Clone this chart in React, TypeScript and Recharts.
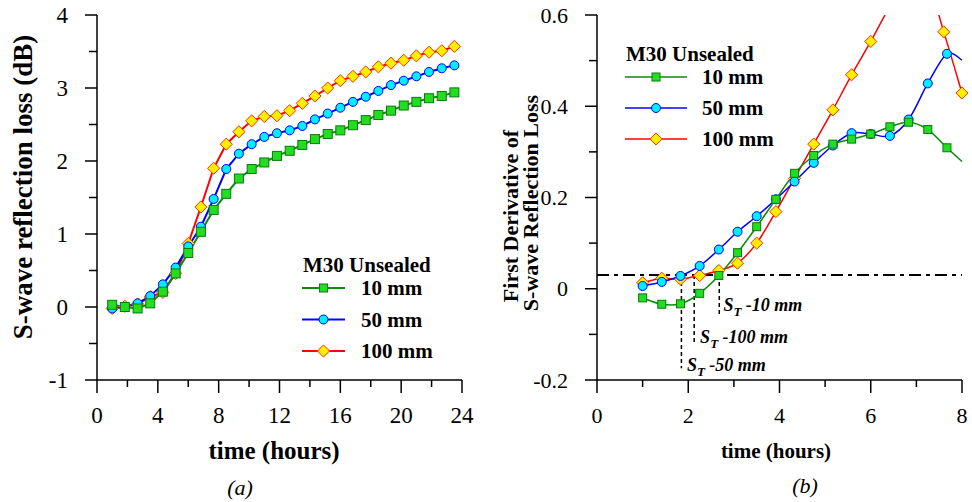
import { LineChart, Line, XAxis, YAxis, ReferenceLine, ReferenceDot } from "recharts";

const FONT = '"Liberation Serif", "Times New Roman", serif';

// (a) S-wave reflection loss over 24 h
const hoursA = [1, 1.83, 2.67, 3.5, 4.33, 5.17, 6, 6.83, 7.67, 8.5, 9.33, 10.17, 11, 11.83, 12.67, 13.5, 14.33, 15.17, 16, 16.83, 17.67, 18.5, 19.33, 20.17, 21, 21.83, 22.67, 23.5];
const loss10 = [0.03, 0.0, -0.02, 0.05, 0.21, 0.46, 0.74, 1.03, 1.33, 1.55, 1.76, 1.89, 1.98, 2.07, 2.14, 2.22, 2.3, 2.37, 2.42, 2.49, 2.56, 2.63, 2.69, 2.76, 2.81, 2.86, 2.89, 2.94];
const loss50 = [-0.02, 0.0, 0.05, 0.15, 0.31, 0.54, 0.83, 1.1, 1.48, 1.89, 2.1, 2.23, 2.33, 2.38, 2.42, 2.48, 2.57, 2.65, 2.73, 2.81, 2.88, 2.96, 3.04, 3.1, 3.16, 3.22, 3.27, 3.31];
const loss100 = [-0.02, 0.01, 0.04, 0.14, 0.2, 0.46, 0.87, 1.37, 1.9, 2.23, 2.4, 2.55, 2.61, 2.62, 2.69, 2.79, 2.89, 3.0, 3.1, 3.16, 3.22, 3.29, 3.34, 3.38, 3.44, 3.49, 3.51, 3.57];

// (b) first derivative, first 8 h (last point of 10/50 mm has no marker)
const hoursB = [1, 1.42, 1.83, 2.25, 2.67, 3.08, 3.5, 3.92, 4.33, 4.75, 5.17, 5.58, 6, 6.42, 6.83, 7.25, 7.67, 8.0];
const deriv10 = [-0.02, -0.034, -0.033, -0.01, 0.029, 0.079, 0.136, 0.196, 0.253, 0.292, 0.317, 0.328, 0.339, 0.355, 0.365, 0.349, 0.309, 0.279];
const deriv50 = [0.006, 0.015, 0.028, 0.05, 0.086, 0.125, 0.159, 0.196, 0.235, 0.276, 0.314, 0.341, 0.339, 0.335, 0.371, 0.45, 0.515, 0.501];
const hoursB100 = [1, 1.42, 1.83, 2.25, 2.67, 3.08, 3.5, 3.92, 4.33, 4.75, 5.17, 5.58, 6, 6.42, 6.83, 7.25, 7.6, 8.0];
const deriv100 = [0.013, 0.023, 0.021, 0.029, 0.04, 0.056, 0.1, 0.169, 0.242, 0.317, 0.392, 0.469, 0.542, 0.62, 0.69, 0.67, 0.563, 0.429];
const MARKED_B = 17;

const threshold = 0.03;
// onset times: [label, time, bottom of dashed drop, label x, label baseline]
const onsets: [string, number, number, number, number][] = [
  ["-10 mm", 2.68, -0.061, 2.77, -0.049],
  ["-100 mm", 2.13, -0.12, 2.26, -0.119],
  ["-50 mm", 1.85, -0.174, 1.97, -0.18],
];

const ticksAx = [0, 2, 4, 6, 8, 10, 12, 14, 16, 18, 20, 22, 24];
const majorsAx = [0, 4, 8, 12, 16, 20, 24];
const ticksAy = [-1, -0.5, 0, 0.5, 1, 1.5, 2, 2.5, 3, 3.5, 4];
const majorsAy = [-1, 0, 1, 2, 3, 4];
const ticksBx = [0, 1, 2, 3, 4, 5, 6, 7, 8];
const majorsBx = [0, 2, 4, 6, 8];
const ticksBy = [-0.2, -0.1, 0, 0.1, 0.2, 0.3, 0.4, 0.5, 0.6];
const majorsBy = [-0.2, 0, 0.2, 0.4, 0.6];

const C = {
  g: { line: "#0b8a0b", fill: "#22dd22", edge: "#0a7a0a" },
  b: { line: "#0000ff", fill: "#00eeff", edge: "#0000ff" },
  r: { line: "#ff0000", fill: "#ffee00", edge: "#ff3000" },
};

const rows = (ts: number[], vs: number[]) => ts.map((t, i) => ({ t, v: vs[i] }));

// Catmull-Rom style smoothing, like a spreadsheet "smoothed line"
function smooth(context: any) {
  let pts: number[][] = [];
  return {
    areaStart() {},
    areaEnd() {},
    lineStart() { pts = []; },
    point(x: number, y: number) { pts.push([+x, +y]); },
    lineEnd() {
      if (!pts.length) return;
      context.moveTo(pts[0][0], pts[0][1]);
      for (let i = 0; i < pts.length - 1; i++) {
        const p0 = pts[Math.max(i - 1, 0)], p1 = pts[i], p2 = pts[i + 1], p3 = pts[Math.min(i + 2, pts.length - 1)];
        context.bezierCurveTo(
          p1[0] + (p2[0] - p0[0]) / 6, p1[1] + (p2[1] - p0[1]) / 6,
          p2[0] - (p3[0] - p1[0]) / 6, p2[1] - (p3[1] - p1[1]) / 6,
          p2[0], p2[1]
        );
      }
    },
  };
}

function Marker({ kind, cx, cy, s }: { kind: string; cx: number; cy: number; s: number }) {
  if (kind === "square")
    return <rect x={cx - s} y={cy - s} width={2 * s} height={2 * s} fill={C.g.fill} stroke={C.g.edge} strokeWidth={1} />;
  if (kind === "circle")
    return <circle cx={cx} cy={cy} r={s} fill={C.b.fill} stroke={C.b.edge} strokeWidth={1} />;
  const d = s * 1.35;
  return <polygon points={`${cx},${cy - d} ${cx + d},${cy} ${cx},${cy + d} ${cx - d},${cy}`} fill={C.r.fill} stroke={C.r.edge} strokeWidth={1} />;
}

const dotFn = (kind: string, s: number) => (p: any) =>
  <Marker key={`${kind}${p.index}`} kind={kind} cx={p.cx} cy={p.cy} s={s} />;

const near = (list: number[], v: number) => list.some((m) => Math.abs(m - v) < 1e-9);

function AxisTick(props: any) {
  const { x, y, payload, orient, majors, size } = props;
  const v = payload.value;
  const major = near(majors, v);
  if (orient === "bottom") {
    return (
      <g>
        <line x1={x} y1={y} x2={x} y2={y + (major ? 13 : 7)} stroke="#000" strokeWidth={1.5} />
        {major && (
          <text x={x} y={y + 35} textAnchor="middle" dominantBaseline="central" fontSize={size} fontFamily={FONT} fill="#000">
            {String(v)}
          </text>
        )}
      </g>
    );
  }
  return (
    <g>
      <line x1={x} y1={y} x2={x - (major ? 12 : 8)} y2={y} stroke="#000" strokeWidth={1.5} />
      {major && (
        <text x={x - 29} y={y} textAnchor="end" dominantBaseline="central" fontSize={size} fontFamily={FONT} fill="#000">
          {String(v)}
        </text>
      )}
    </g>
  );
}

function OnsetLabel({ viewBox, text }: any) {
  const x = viewBox.x + viewBox.width / 2;
  const y = viewBox.y + viewBox.height / 2;
  return (
    <text x={x} y={y} fontSize={18} fontWeight="bold" fontStyle="italic" fontFamily={FONT} fill="#000">
      S<tspan fontSize={13} dy={5}>T</tspan>
      <tspan dy={-5}>{" " + text}</tspan>
    </text>
  );
}

function LegendBox({ x, y, gap, lineW, textX, sw, size }: any) {
  const items: [string, string, string][] = [
    ["10 mm", "square", C.g.line],
    ["50 mm", "circle", C.b.line],
    ["100 mm", "diamond", C.r.line],
  ];
  return (
    <g fontFamily={FONT} fontWeight="bold" fontSize={size} fill="#000">
      <text x={x + 1} y={y - 23} dominantBaseline="central">M30 Unsealed</text>
      {items.map(([label, kind, color], i) => {
        const cy = y + i * gap;
        return (
          <g key={label}>
            <line x1={x} y1={cy} x2={x + lineW} y2={cy} stroke={color} strokeWidth={sw} />
            <Marker kind={kind} cx={x + lineW / 2} cy={cy} s={kind === "square" ? 4 : 4.5} />
            <text x={textX} y={cy} dominantBaseline="central">{label}</text>
          </g>
        );
      })}
    </g>
  );
}

export default function App() {
  const dataG = rows(hoursB, deriv10);
  const dataB = rows(hoursB, deriv50);
  const dataR = rows(hoursB100, deriv100);
  const marks = (d: { t: number; v: number }[], all = false) =>
    d.filter((p, i) => p.v <= 0.6 && (all || i < MARKED_B));

  return (
    <div style={{ position: "absolute", left: 0, top: 0, width: 972, height: 502, background: "#fff" }}>
      {/* (a) */}
      <div style={{ position: "absolute", left: 0, top: 0 }}>
        <LineChart width={480} height={502} margin={{ top: 15, right: 18, bottom: 82, left: 0 }}>
          <XAxis
            dataKey="t"
            type="number"
            domain={[0, 24]}
            ticks={ticksAx}
            interval={0}
            height={40}
            tickSize={0}
            tickMargin={0}
            tickLine={false}
            axisLine={{ stroke: "#000", strokeWidth: 1.5 }}
            tick={(p: any) => <AxisTick {...p} orient="bottom" majors={majorsAx} size={23} />}
          />
          <YAxis
            type="number"
            domain={[-1, 4]}
            ticks={ticksAy}
            interval={0}
            width={97}
            tickSize={0}
            tickMargin={0}
            tickLine={false}
            axisLine={{ stroke: "#000", strokeWidth: 1.5 }}
            tick={(p: any) => <AxisTick {...p} orient="left" majors={majorsAy} size={23} />}
          />
          <Line data={rows(hoursA, loss100)} dataKey="v" type="linear" stroke={C.r.line} strokeWidth={2} dot={dotFn("diamond", 4.5)} isAnimationActive={false} />
          <Line data={rows(hoursA, loss50)} dataKey="v" type="linear" stroke={C.b.line} strokeWidth={2} dot={dotFn("circle", 4.5)} isAnimationActive={false} />
          <Line data={rows(hoursA, loss10)} dataKey="v" type="linear" stroke={C.g.line} strokeWidth={2} dot={dotFn("square", 4.5)} isAnimationActive={false} />
        </LineChart>
      </div>

      {/* (b) */}
      <div style={{ position: "absolute", left: 500, top: 0 }}>
        <LineChart width={472} height={502} margin={{ top: 15, right: 10, bottom: 82, left: 0 }}>
          <XAxis
            dataKey="t"
            type="number"
            domain={[0, 8]}
            ticks={ticksBx}
            interval={0}
            height={40}
            tickSize={0}
            tickMargin={0}
            tickLine={false}
            axisLine={{ stroke: "#000", strokeWidth: 1.5 }}
            tick={(p: any) => <AxisTick {...p} orient="bottom" majors={majorsBx} size={22} />}
          />
          <YAxis
            type="number"
            domain={[-0.2, 0.6]}
            allowDataOverflow
            ticks={ticksBy}
            interval={0}
            width={97}
            tickSize={0}
            tickMargin={0}
            tickLine={false}
            axisLine={{ stroke: "#000", strokeWidth: 1.5 }}
            tick={(p: any) => <AxisTick {...p} orient="left" majors={majorsBy} size={22} />}
          />
          <YAxis yAxisId="m" type="number" domain={[-0.2, 0.6]} hide />
          <ReferenceLine y={threshold} stroke="#000" strokeWidth={2} strokeDasharray="12 5 4 5" />
          {onsets.map(([label, t, bottom]) => (
            <ReferenceLine
              key={label}
              segment={[{ x: t, y: threshold }, { x: t, y: bottom }]}
              stroke="#000"
              strokeWidth={1.5}
              strokeDasharray="4 3"
            />
          ))}
          {onsets.map(([label, , , lx, ly]) => (
            <ReferenceDot
              key={"l" + label}
              x={lx}
              y={ly}
              r={1}
              fill="none"
              stroke="none"
              label={{ content: (p: any) => <OnsetLabel {...p} text={label} /> }}
            />
          ))}
          <Line data={dataR} dataKey="v" type={smooth as any} stroke={C.r.line} strokeWidth={1.5} dot={false} isAnimationActive={false} />
          <Line data={dataB} dataKey="v" type={smooth as any} stroke={C.b.line} strokeWidth={1.5} dot={false} isAnimationActive={false} />
          <Line data={dataG} dataKey="v" type={smooth as any} stroke={C.g.line} strokeWidth={1.5} dot={false} isAnimationActive={false} />
          <Line yAxisId="m" data={marks(dataR, true)} dataKey="v" stroke="none" dot={dotFn("diamond", 4.5)} isAnimationActive={false} />
          <Line yAxisId="m" data={marks(dataB)} dataKey="v" stroke="none" dot={dotFn("circle", 4.5)} isAnimationActive={false} />
          <Line yAxisId="m" data={marks(dataG)} dataKey="v" stroke="none" dot={dotFn("square", 4)} isAnimationActive={false} />
        </LineChart>
      </div>

      {/* titles, legends */}
      <svg width={972} height={502} style={{ position: "absolute", left: 0, top: 0, pointerEvents: "none" }}>
        <g fontFamily={FONT} fill="#000">
          <text transform="translate(23,187) rotate(-90)" textAnchor="middle" dominantBaseline="central" fontSize={27} fontWeight="bold">
            S-wave reflection loss (dB)
          </text>
          <text x={274} y={450} textAnchor="middle" dominantBaseline="central" fontSize={25} fontWeight="bold">time (hours)</text>
          <text x={240} y={487} textAnchor="middle" dominantBaseline="central" fontSize={22} fontStyle="italic">(a)</text>
          <text transform="translate(510,216) rotate(-90)" textAnchor="middle" dominantBaseline="central" fontSize={22} fontWeight="bold">
            First Derivative of
          </text>
          <text transform="translate(530,203) rotate(-90)" textAnchor="middle" dominantBaseline="central" fontSize={22} fontWeight="bold">
            S-wave Reflection Loss
          </text>
          <text x={776} y={451} textAnchor="middle" dominantBaseline="central" fontSize={21} fontWeight="bold">time (hours)</text>
          <text x={805} y={485} textAnchor="middle" dominantBaseline="central" fontSize={22} fontStyle="italic">(b)</text>
        </g>
        <LegendBox x={302} y={288} gap={31.5} lineW={43} textX={361} sw={2} size={21} />
        <LegendBox x={625} y={77} gap={31} lineW={62} textX={702} sw={1.5} size={21} />
      </svg>
    </div>
  );
}
